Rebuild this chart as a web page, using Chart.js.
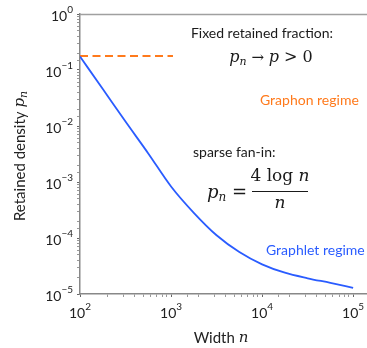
<!DOCTYPE html>
<html>
<head>
<meta charset="utf-8">
<script src="https://cdn.jsdelivr.net/npm/chart.js@4"></script>
<style>
  html, body { margin: 0; padding: 0; background: #fff; }
  canvas { display: block; }
</style>
</head>
<body>
<canvas id="chart" width="367" height="348"></canvas>
<script>
// datos
const widthN = [100, 178, 316, 562, 1000, 1778, 3162, 5623, 10000, 17783, 31623, 56234, 100000];
const densityPn = [0.174, 0.0457, 0.0120, 0.00324, 0.000832, 0.000282, 0.000112, 0.0000562, 0.0000339, 0.000024, 0.0000191, 0.0000158, 0.0000129];
const fixedN = [100, 1050];
const fixedP = [0.178, 0.178];
const xTickExps = [2, 3, 4, 5];
const yTickExps = [0, -1, -2, -3, -4, -5];

const SANS = 'Lato, "DejaVu Sans", sans-serif';
const SERIF = '"DejaVu Serif", "Liberation Serif", serif';
const BLUE = '#2a5cff';
const ORANGE = '#ff7a1c';

const toPoints = (xs, ys) => xs.map((x, i) => ({ x: x, y: ys[i] }));

// dibuja una secuencia de trozos de texto con fuentes distintas
function drawRuns(ctx, runs, x, y, align) {
    let total = 0;
    runs.forEach(r => { ctx.font = r.font; total += ctx.measureText(r.text).width; });
    let cx = align === 'center' ? x - total / 2 : (align === 'right' ? x - total : x);
    ctx.textAlign = 'left';
    ctx.textBaseline = 'middle';
    runs.forEach(r => {
        ctx.font = r.font;
        ctx.fillText(r.text, cx, y + (r.dy || 0));
        cx += ctx.measureText(r.text).width;
    });
}

function powRuns(e) {
    const exp = e < 0 ? '\u2212' + Math.abs(e) : String(e);
    return [
        { text: '10', font: '14px ' + SANS },
        { text: exp, font: '10px ' + SANS, dy: -6 }
    ];
}

const decorPlugin = {
    id: 'decor',
    afterDraw(chart) {
        const ctx = chart.ctx;
        const area = chart.chartArea;
        const xs = chart.scales.x;
        const ys = chart.scales.y;
        ctx.save();

        // borde superior
        ctx.strokeStyle = '#a0a0a0';
        ctx.lineWidth = 1.5;
        ctx.beginPath();
        ctx.moveTo(area.left, area.top + 0.5);
        ctx.lineTo(area.right, area.top + 0.5);
        ctx.stroke();

        // etiquetas de ticks
        ctx.fillStyle = '#222';
        xTickExps.forEach(e => {
            drawRuns(ctx, powRuns(e), xs.getPixelForValue(Math.pow(10, e)), area.bottom + 19, 'center');
        });
        yTickExps.forEach(e => {
            drawRuns(ctx, powRuns(e), area.left - 7, ys.getPixelForValue(Math.pow(10, e)) + 2, 'right');
        });

        // títulos de ejes
        drawRuns(ctx, [
            { text: 'Width ', font: '15px ' + SANS },
            { text: 'n', font: 'italic 15px ' + SERIF }
        ], 221, 338, 'center');

        ctx.save();
        ctx.translate(20, 156);
        ctx.rotate(-Math.PI / 2);
        drawRuns(ctx, [
            { text: 'Retained density ', font: '15px ' + SANS },
            { text: 'p', font: 'italic 15px ' + SERIF },
            { text: 'n', font: 'italic 11px ' + SERIF, dy: 4 }
        ], 0, 0, 'center');
        ctx.restore();

        // anotaciones
        ctx.fillStyle = '#1a1a1a';
        drawRuns(ctx, [{ text: 'Fixed retained fraction:', font: '14px ' + SANS }], 262, 33, 'center');
        drawRuns(ctx, [
            { text: 'p', font: 'italic 16px ' + SERIF },
            { text: 'n', font: 'italic 11px ' + SERIF, dy: 4 },
            { text: ' \u2192 ', font: '15px ' + SERIF },
            { text: 'p', font: 'italic 16px ' + SERIF },
            { text: ' > 0', font: '16px ' + SERIF }
        ], 271, 58, 'center');

        ctx.fillStyle = ORANGE;
        drawRuns(ctx, [{ text: 'Graphon regime', font: '14px ' + SANS }], 260, 100, 'left');

        ctx.fillStyle = '#1a1a1a';
        drawRuns(ctx, [{ text: 'sparse fan-in:', font: '14px ' + SANS }], 193, 152, 'left');

        drawRuns(ctx, [
            { text: 'p', font: 'italic 18px ' + SERIF },
            { text: 'n', font: 'italic 12px ' + SERIF, dy: 5 },
            { text: ' =', font: '18px ' + SERIF }
        ], 247, 193, 'right');
        drawRuns(ctx, [
            { text: '4 log ', font: '17px ' + SERIF },
            { text: 'n', font: 'italic 17px ' + SERIF }
        ], 280, 177, 'center');
        ctx.strokeStyle = '#1a1a1a';
        ctx.lineWidth = 1.2;
        ctx.beginPath();
        ctx.moveTo(252, 191.5);
        ctx.lineTo(308, 191.5);
        ctx.stroke();
        drawRuns(ctx, [{ text: 'n', font: 'italic 17px ' + SERIF }], 280, 204, 'center');

        ctx.fillStyle = BLUE;
        drawRuns(ctx, [{ text: 'Graphlet regime', font: '14px ' + SANS }], 266, 250, 'left');

        ctx.restore();
    }
};

const tickColor = c => (c.tick && c.tick.major ? '#666' : '#999');

new Chart(document.getElementById('chart'), {
    type: 'scatter',
    data: {
        datasets: [
            {
                label: 'sparse',
                data: toPoints(widthN, densityPn),
                showLine: true,
                borderColor: BLUE,
                borderWidth: 1.8,
                cubicInterpolationMode: 'monotone',
                pointRadius: 0
            },
            {
                label: 'fixed',
                data: toPoints(fixedN, fixedP),
                showLine: true,
                borderColor: ORANGE,
                borderWidth: 2.2,
                borderDash: [8, 4.5],
                pointRadius: 0
            }
        ]
    },
    options: {
        responsive: false,
        devicePixelRatio: 1,
        animation: false,
        layout: { padding: { top: 14, right: 0, left: 0, bottom: 0 } },
        plugins: {
            legend: { display: false },
            tooltip: { enabled: false }
        },
        scales: {
            x: {
                type: 'logarithmic',
                min: 100,
                max: 142000,
                afterFit: s => { s.height = 54; },
                border: { color: '#888', width: 1.5 },
                grid: { drawOnChartArea: false, drawTicks: true, tickLength: 3, tickColor: tickColor },
                ticks: { autoSkip: false, callback: () => '', font: { size: 1 }, padding: 0 }
            },
            y: {
                type: 'logarithmic',
                min: 0.00001,
                max: 1,
                afterFit: s => { s.width = 80; },
                border: { color: '#888', width: 1.5 },
                grid: { drawOnChartArea: false, drawTicks: true, tickLength: 3, tickColor: tickColor },
                ticks: { autoSkip: false, callback: () => '', font: { size: 1 }, padding: 0 }
            }
        }
    },
    plugins: [decorPlugin]
});
</script>
</body>
</html>
